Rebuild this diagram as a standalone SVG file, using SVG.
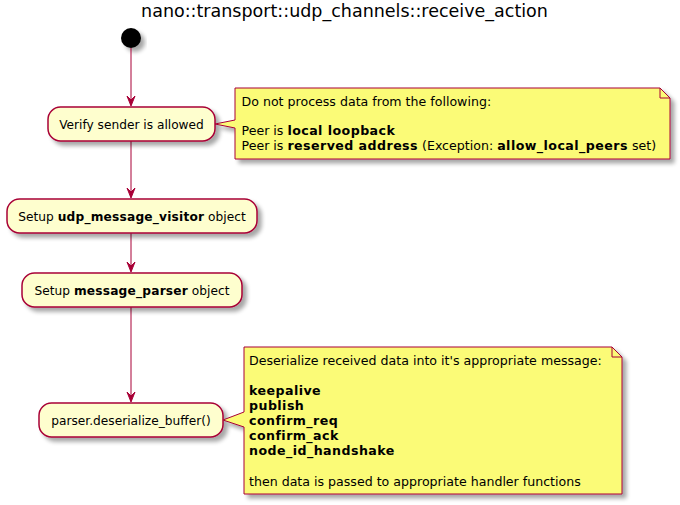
<svg xmlns="http://www.w3.org/2000/svg" width="680" height="505" viewBox="0 0 680 505">
<defs>
<filter id="sh" x="-20%" y="-20%" width="150%" height="160%">
<feGaussianBlur in="SourceAlpha" stdDeviation="2"/>
<feOffset dx="4" dy="4" result="b"/>
<feComponentTransfer><feFuncA type="linear" slope="0.35"/></feComponentTransfer>
<feMerge><feMergeNode/><feMergeNode in="SourceGraphic"/></feMerge>
</filter>
</defs>
<style>
text{font-family:"DejaVu Sans","Liberation Sans",sans-serif;fill:#000}
.t{font-size:17.5px}
.a{font-size:12.2px}
.n{font-size:12.6px}
.b{font-weight:bold}
.n .b,.n.b{letter-spacing:0.45px}
.a .b{letter-spacing:0.2px}
.act{fill:#FEFECE;stroke:#A80036;stroke-width:1.5}
.note{fill:#FBFB77;stroke:#A80036;stroke-width:1}
.ln{stroke:#A80036;stroke-width:1;fill:none}
.hd{fill:#A80036;stroke:#A80036;stroke-width:1}
</style>
<rect width="680" height="505" fill="#FFFFFF"/>
<text class="t" x="344.5" y="17" text-anchor="middle">nano::transport::udp_channels::receive_action</text>

<g id="start">
<circle cx="131" cy="38" r="10" fill="#000" filter="url(#sh)"/>
</g>

<g id="connectors">
<line class="ln" x1="131" y1="48" x2="131" y2="105"/>
<polygon class="hd" points="127,96 131,106 135,96 131,100"/>
<line class="ln" x1="131" y1="141" x2="131" y2="197"/>
<polygon class="hd" points="127,188 131,198 135,188 131,192"/>
<line class="ln" x1="131" y1="233" x2="131" y2="271"/>
<polygon class="hd" points="127,262 131,272 135,262 131,266"/>
<line class="ln" x1="131" y1="307" x2="131" y2="401"/>
<polygon class="hd" points="127,392 131,402 135,392 131,396"/>
</g>

<g id="verify">
<rect class="act" x="48" y="107" width="167" height="34" rx="12.5" filter="url(#sh)"/>
<text class="a" x="131.5" y="128.5" text-anchor="middle">Verify sender is allowed</text>
</g>

<g id="note1">
<path class="note" d="M235,88 L660,88 L670,98 L670,159 L235,159 L235,128 L215,124 L235,120 Z" filter="url(#sh)"/>
<path class="ln" d="M660,88 L660,98 L670,98"/>
<text class="n" x="241.5" y="106">Do not process data from the following:</text>
<text class="n" x="241.5" y="135">Peer is <tspan class="b">local loopback</tspan></text>
<text class="n" x="241.5" y="150">Peer is <tspan class="b">reserved address</tspan> (Exception: <tspan class="b">allow_local_peers</tspan> set)</text>
</g>

<g id="visitor">
<rect class="act" x="7" y="199" width="250" height="34" rx="12.5" filter="url(#sh)"/>
<text class="a" x="132" y="220.5" text-anchor="middle">Setup <tspan class="b">udp_message_visitor</tspan> object</text>
</g>

<g id="parser">
<rect class="act" x="22" y="273" width="220" height="34" rx="12.5" filter="url(#sh)"/>
<text class="a" x="132" y="294.5" text-anchor="middle">Setup <tspan class="b">message_parser</tspan> object</text>
</g>

<g id="deserialize">
<rect class="act" x="39" y="403" width="184" height="34" rx="12.5" filter="url(#sh)"/>
<text class="a" x="131" y="424.5" text-anchor="middle">parser.deserialize_buffer()</text>
</g>

<g id="note2">
<path class="note" d="M244,347 L612,347 L622,357 L622,494 L244,494 L244,427 L223,420 L244,412 Z" filter="url(#sh)"/>
<path class="ln" d="M612,347 L612,357 L622,357"/>
<text class="n" x="249" y="365">Deserialize received data into it's appropriate message:</text>
<text class="n b" x="249" y="395">keepalive</text>
<text class="n b" x="249" y="410">publish</text>
<text class="n b" x="249" y="425">confirm_req</text>
<text class="n b" x="249" y="440">confirm_ack</text>
<text class="n b" x="249" y="455">node_id_handshake</text>
<text class="n" x="249" y="486">then data is passed to appropriate handler functions</text>
</g>
</svg>
